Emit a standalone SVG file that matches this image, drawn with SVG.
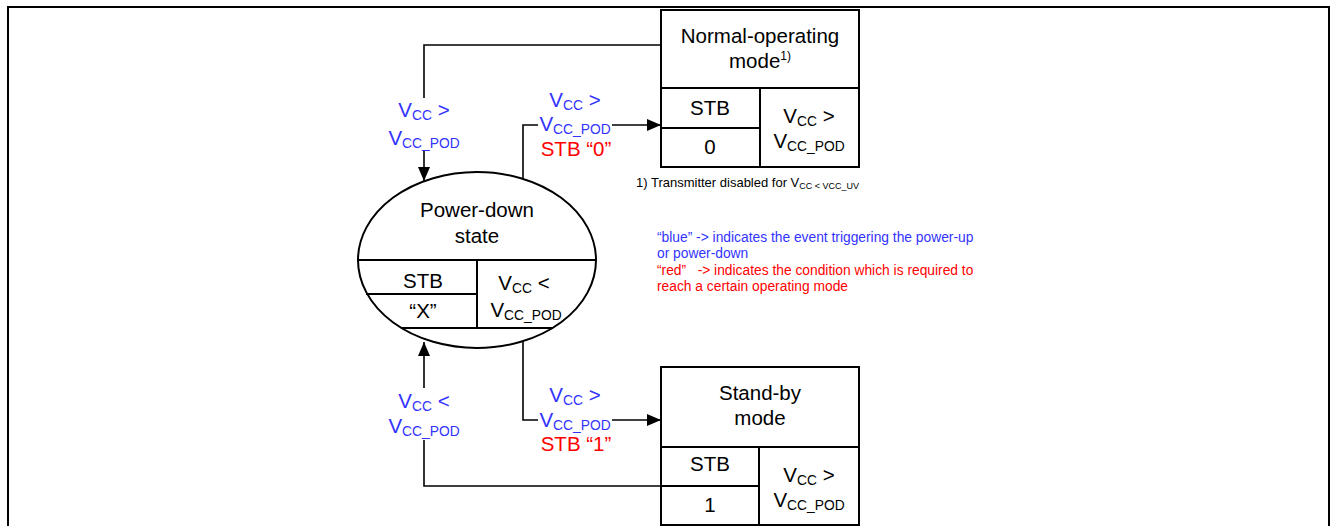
<svg xmlns="http://www.w3.org/2000/svg" width="1332" height="526" viewBox="0 0 1332 526">
<style>
text{font-family:"Liberation Sans",Arial,sans-serif;}
.t{font-size:20.5px;fill:#000;text-anchor:middle;}
.b{font-size:20.5px;fill:#3333FF;text-anchor:middle;}
.r{font-size:20.5px;fill:#FF0000;text-anchor:middle;}
.s{font-size:13.8px;}
.lg{font-size:13.8px;}
.box{fill:#fff;stroke:#000;stroke-width:2;}
.ln{fill:none;stroke:#000;stroke-width:2;}
.cn{fill:none;stroke:#000;stroke-width:1.6;}
</style>
<defs>
<marker id="ah" viewBox="0 0 14 12" refX="14" refY="6" markerWidth="14" markerHeight="12" markerUnits="userSpaceOnUse" orient="auto">
<path d="M0,0 L14,6 L0,12 Z" fill="#000"/>
</marker>
</defs>
<rect x="0" y="0" width="1332" height="526" fill="#fff"/>
<path d="M8,527 V7 H1329 V527" fill="none" stroke="#000" stroke-width="2"/>

<g id="connectors">
<path class="cn" d="M661,45 H424 V98"/>
<path class="cn" d="M424,151 V181" marker-end="url(#ah)"/>
<path class="cn" d="M523,180 V125 H538"/>
<path class="cn" d="M612,125 H661" marker-end="url(#ah)"/>
<path class="cn" d="M523,340 V420 H538"/>
<path class="cn" d="M612,420 H661" marker-end="url(#ah)"/>
<path class="cn" d="M661,486 H424 V440"/>
<path class="cn" d="M424,388 V342" marker-end="url(#ah)"/>
</g>

<g id="label-top-left">
<text class="b" x="424" y="117">V<tspan class="s" dy="3">CC</tspan><tspan dy="-3"> &gt;</tspan></text>
<text class="b" x="424" y="145">V<tspan class="s" dy="3">CC_POD</tspan></text>
</g>
<g id="label-top-right">
<text class="b" x="575" y="107">V<tspan class="s" dy="3">CC</tspan><tspan dy="-3"> &gt;</tspan></text>
<text class="b" x="575" y="131">V<tspan class="s" dy="3">CC_POD</tspan></text>
<text class="r" x="576" y="156">STB “0”</text>
</g>
<g id="label-bottom-right">
<text class="b" x="575" y="402">V<tspan class="s" dy="3">CC</tspan><tspan dy="-3"> &gt;</tspan></text>
<text class="b" x="575" y="427">V<tspan class="s" dy="3">CC_POD</tspan></text>
<text class="r" x="576" y="451">STB “1”</text>
</g>
<g id="label-bottom-left">
<text class="b" x="424" y="408">V<tspan class="s" dy="3">CC</tspan><tspan dy="-3"> &lt;</tspan></text>
<text class="b" x="424" y="433">V<tspan class="s" dy="3">CC_POD</tspan></text>
</g>

<g id="normal-mode">
<rect class="box" x="661" y="10" width="198" height="157"/>
<path class="ln" d="M661,88 H859 M760,88 V167 M661,128 H760"/>
<text class="t" x="760" y="43">Normal-operating</text>
<text class="t" x="760" y="68">mode<tspan style="font-size:12px" dy="-8">1)</tspan></text>
<text class="t" x="710" y="115">STB</text>
<text class="t" x="710" y="154">0</text>
<text class="t" x="809" y="123">V<tspan class="s" dy="3">CC</tspan><tspan dy="-3"> &gt;</tspan></text>
<text class="t" x="809" y="148">V<tspan class="s" dy="3">CC_POD</tspan></text>
</g>

<g id="footnote">
<text x="636" y="187" style="font-size:13px;fill:#000;">1) Transmitter disabled for V<tspan style="font-size:9px" dy="1.5">CC &lt; VCC_UV</tspan></text>
</g>

<g id="legend">
<text class="lg" x="657" y="242" fill="#3333FF">“blue” -&gt; indicates the event triggering the power-up</text>
<text class="lg" x="657" y="258" fill="#3333FF">or power-down</text>
<text class="lg" x="657" y="275" fill="#FF0000" xml:space="preserve">“red”   -&gt; indicates the condition which is required to</text>
<text class="lg" x="657" y="291" fill="#FF0000">reach a certain operating mode</text>
</g>

<g id="power-down-state">
<ellipse class="box" cx="477" cy="260" rx="119" ry="88"/>
<path class="ln" d="M358,260 H596 M477,260 V328 M366,294 H477 M401,328 H553"/>
<text class="t" x="477" y="217">Power-down</text>
<text class="t" x="477" y="243">state</text>
<text class="t" x="423" y="288">STB</text>
<text class="t" x="423" y="318">“X”</text>
<text class="t" x="524" y="290">V<tspan class="s" dy="3">CC</tspan><tspan dy="-3"> &lt;</tspan></text>
<text class="t" x="526" y="317">V<tspan class="s" dy="3">CC_POD</tspan></text>
</g>

<g id="standby-mode">
<rect class="box" x="661" y="367" width="198" height="158"/>
<path class="ln" d="M661,447 H859 M759,447 V525 M661,486 H759"/>
<text class="t" x="760" y="400">Stand-by</text>
<text class="t" x="760" y="425">mode</text>
<text class="t" x="710" y="471">STB</text>
<text class="t" x="710" y="512">1</text>
<text class="t" x="809" y="482">V<tspan class="s" dy="3">CC</tspan><tspan dy="-3"> &gt;</tspan></text>
<text class="t" x="809" y="507">V<tspan class="s" dy="3">CC_POD</tspan></text>
</g>
</svg>
